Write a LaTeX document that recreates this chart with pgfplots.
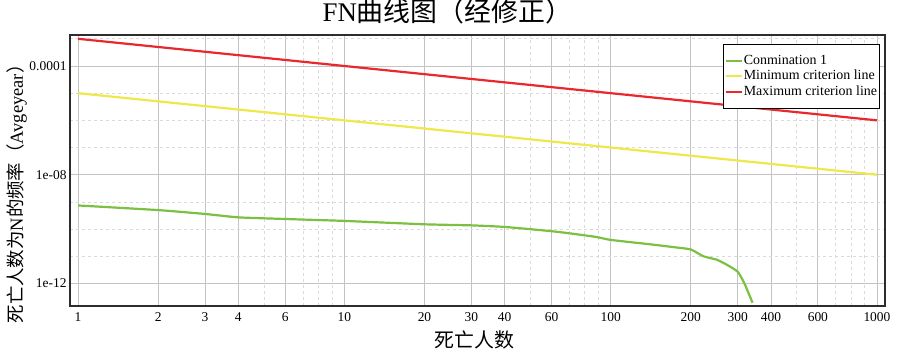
\documentclass[border=0pt]{standalone}
\usepackage{pgfplots}
\pgfplotsset{compat=1.18}
\usepackage{fontspec}
\setmainfont{Liberation Serif}
\newfontfamily\cjk{Noto Sans CJK SC}
\definecolor{cgreen}{RGB}{124,192,66}
\definecolor{cyellow}{RGB}{238,232,74}
\definecolor{cred}{RGB}{232,40,44}
\definecolor{cgrid}{RGB}{195,195,195}
\definecolor{cminor}{RGB}{218,218,218}
\definecolor{caxis}{RGB}{45,45,45}
\begin{document}
\begin{tikzpicture}
\path[use as bounding box] (0,0) rectangle (898bp,356bp);
\begin{axis}[
  at={(70bp,50bp)}, anchor=south west,
  scale only axis, width=815bp, height=271bp,
  xmode=log, ymode=log,
  xmin=0.933, xmax=1072,
  ymin=1.48e-13, ymax=1.38e-3,
  xtick={1,2,3,4,6,10,20,30,40,60,100,200,300,400,600,1000},
  xticklabels={1,2,3,4,6,10,20,30,40,60,100,200,300,400,600,1000},
  minor xtick={5,7,8,9,50,70,80,90,500,700,800,900},
  ytick={1e-4,1e-8,1e-12},
  yticklabels={0.0001,1e-08,1e-12},
  minor ytick={1e-3,1e-5,1e-6,1e-7,1e-9,1e-10,1e-11},
  major tick length=0pt, minor tick length=0pt,
  grid=both,
  major grid style={cgrid, line width=0.9pt},
  minor grid style={cminor, dashed, line width=0.8pt},
  axis line style={caxis, line width=1.6pt},
  tick label style={font=\fontsize{13.5}{15}\selectfont},
  xticklabel style={yshift=-3bp},
  /pgf/number format/assume math mode=true,
  title={FN{\cjk 曲线图（经修正）}},
  title style={font=\fontsize{27}{30}\selectfont, at={(axis description cs:0.463,1.026)}, anchor=base},
  xlabel={{\cjk 死亡人数}},
  xlabel style={font=\fontsize{20}{22}\selectfont, at={(axis description cs:0.496,-0.124)}, anchor=center},
  ylabel={{\cjk 死亡人数为}N{\cjk 的频率（}Avgeyear{\cjk ）}},
  ylabel style={font=\fontsize{18.5}{21}\selectfont, at={(axis description cs:-0.065,0.43)}, anchor=center},
  legend style={at={(axis description cs:0.801,0.967)}, anchor=north west,
    draw=black, line width=1pt, font=\fontsize{14}{15}\selectfont,
    inner xsep=1.5bp, inner ysep=9bp, row sep=0bp,
    nodes={inner sep=1bp, text height=10bp, text depth=3.3bp}},
  legend cell align=left,
  legend image code/.code={\draw[#1, line width=2bp] (0bp,0bp) -- (16bp,0bp);},
]
\addplot[cgreen, line width=2.2bp, smooth, tension=0.3] coordinates {
(1,7.4e-10) (2,5.0e-10) (3,3.6e-10) (4,2.7e-10) (6,2.35e-10) (10,2.0e-10)
(20,1.5e-10) (30,1.37e-10) (40,1.2e-10) (59,8.5e-11) (70,7.0e-11) (88.6,5.1e-11)
(100,4.0e-11) (141,2.75e-11) (177,2.1e-11) (200,1.78e-11) (223,1.0e-11)
(250,7.5e-12) (272,5.0e-12) (300,2.7e-12) (318,1.0e-12) (341,1.95e-13)
};
\addlegendentry{Conmination 1}
\addplot[cyellow, line width=2.2bp] coordinates {(1,1e-5) (1000,1e-8)};
\addlegendentry{Minimum criterion line}
\addplot[cred, line width=2.2bp] coordinates {(1,1e-3) (1000,1e-6)};
\addlegendentry{Maximum criterion line}
\end{axis}
\end{tikzpicture}
\end{document}
